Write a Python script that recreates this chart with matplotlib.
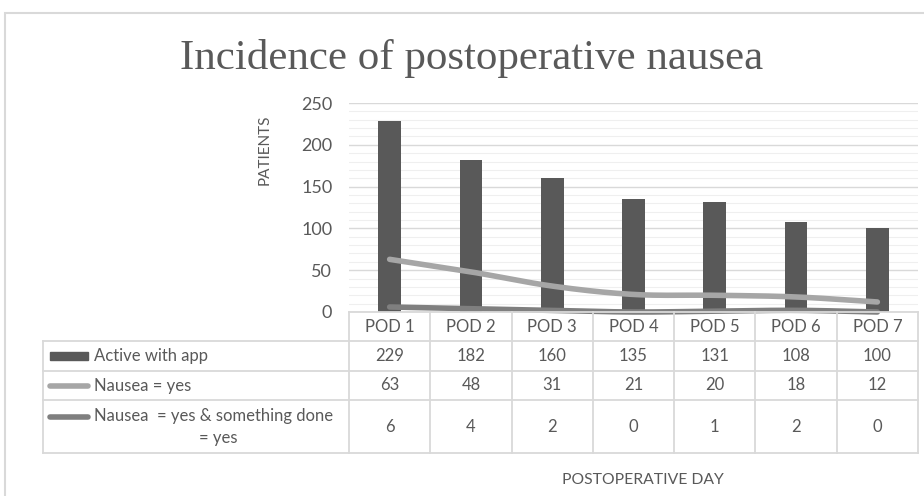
import numpy as np
import matplotlib
matplotlib.use("Agg")
import matplotlib.pyplot as plt
from matplotlib.lines import Line2D
from matplotlib.patches import Rectangle

days = ["POD 1", "POD 2", "POD 3", "POD 4", "POD 5", "POD 6", "POD 7"]
active = [229, 182, 160, 135, 131, 108, 100]
nausea = [63, 48, 31, 21, 20, 18, 12]
nausea_done = [6, 4, 2, 0, 1, 2, 0]
row_names = ["Active with app", "Nausea = yes", "Nausea  = yes & something done", "= yes"]

W, H = 924, 496
TXT = "#595959"
BAR = "#595959"
L1 = "#a6a6a6"
L2 = "#7f7f7f"
GRID = "#d9d9d9"
FS = 12

fig = plt.figure(figsize=(W / 100, H / 100), dpi=100)


def fx(x):
    return x / W


def fy(y):
    return 1 - y / H


def smooth(y, n=30):
    # catmull-rom like Excel's smoothed line
    y = np.asarray(y, float)
    x = np.arange(len(y), dtype=float)
    px = np.concatenate([[2 * x[0] - x[1]], x, [2 * x[-1] - x[-2]]])
    py = np.concatenate([[2 * y[0] - y[1]], y, [2 * y[-1] - y[-2]]])
    xs, ys = [], []
    for i in range(1, len(px) - 2):
        t = np.linspace(0, 1, n)
        for arr, out in ((px, xs), (py, ys)):
            p0, p1, p2, p3 = arr[i - 1], arr[i], arr[i + 1], arr[i + 2]
            out.append(0.5 * ((2 * p1) + (-p0 + p2) * t + (2 * p0 - 5 * p1 + 4 * p2 - p3) * t ** 2
                              + (-p0 + 3 * p1 - 3 * p2 + p3) * t ** 3))
    return np.concatenate(xs), np.concatenate(ys)


# outer chart frame (runs off the right and bottom edges)
fig.add_artist(Rectangle((fx(5), fy(530)), fx(940), (530 - 13) / H, transform=fig.transFigure,
                         fill=False, edgecolor="#d9d9d9", linewidth=1.5))

# table geometry (pixels)
tl, t0, tr = 43, 349, 918
rows_y = [312, 341, 371, 400, 453]
colw = (tr - t0) / len(days)

ax = fig.add_axes([fx(t0), fy(312), fx(tr - t0), (312 - 103) / H])
x = np.arange(len(days))
ax.bar(x, active, width=0.28, color=BAR, zorder=2)
sx, sy = smooth(nausea)
ax.plot(sx, sy, color=L1, linewidth=4, solid_capstyle="round", zorder=3)
sx, sy = smooth(nausea_done)
ax.plot(sx, sy, color=L2, linewidth=4, solid_capstyle="round", zorder=4, clip_on=False)
ax.set_xlim(-0.5, len(days) - 0.5)
ax.set_ylim(0, 250)
ax.set_yticks(range(0, 251, 50))
ax.set_yticks(range(0, 251, 10), minor=True)
ax.grid(axis="y", which="major", color=GRID, linewidth=1, zorder=0)
ax.grid(axis="y", which="minor", color="#efefef", linewidth=0.8, zorder=0)
ax.set_xticks([])
for s in ax.spines.values():
    s.set_visible(False)
ax.tick_params(axis="y", which="both", length=0, pad=12, labelsize=13, labelcolor=TXT)
for lab in ax.get_yticklabels():
    lab.set_fontfamily("Lato")

# title and axis titles
fig.text(fx(472), fy(58), "Incidence of postoperative nausea", ha="center", va="center",
         fontsize=31, color=TXT, family="Liberation Serif")
fig.text(fx(265), fy(150), "PATIENTS", rotation=90, ha="center", va="center",
         fontsize=11, color=TXT, family="Lato")
fig.text(fx(643), fy(480), "POSTOPERATIVE DAY", ha="center", va="center",
         fontsize=11.3, color=TXT, family="Lato")


# data table grid
def hline(y, x0, x1):
    fig.add_artist(Line2D([fx(x0), fx(x1)], [fy(y), fy(y)], color="#d9d9d9", linewidth=1.3))


def vline(x_, y0, y1):
    fig.add_artist(Line2D([fx(x_), fx(x_)], [fy(y0), fy(y1)], color="#d9d9d9", linewidth=1.3))


hline(rows_y[0], t0, tr)
for y in rows_y[1:]:
    hline(y, tl, tr)
vline(tl, rows_y[1], rows_y[-1])
for i in range(len(days) + 1):
    vline(t0 + i * colw, rows_y[0], rows_y[-1])

for i, d in enumerate(days):
    cx = t0 + (i + 0.5) * colw
    fig.text(fx(cx), fy((rows_y[0] + rows_y[1]) / 2), d, ha="center", va="center",
             fontsize=FS, color=TXT, family="Lato")
    for r, vals in enumerate([active, nausea, nausea_done]):
        cy = (rows_y[r + 1] + rows_y[r + 2]) / 2
        fig.text(fx(cx), fy(cy), str(vals[i]), ha="center", va="center",
                 fontsize=FS, color=TXT, family="Lato")

# row labels with legend keys
cy = (rows_y[1] + rows_y[2]) / 2
fig.add_artist(Rectangle((fx(50), fy(cy + 4)), fx(38), 8 / H, transform=fig.transFigure,
                         color=BAR))
fig.text(fx(94), fy(cy), row_names[0], ha="left", va="center", fontsize=FS, color=TXT, family="Lato")
cy = (rows_y[2] + rows_y[3]) / 2
fig.add_artist(Line2D([fx(50), fx(88)], [fy(cy), fy(cy)], color=L1, linewidth=4, solid_capstyle="round"))
fig.text(fx(94), fy(cy), row_names[1], ha="left", va="center", fontsize=FS, color=TXT, family="Lato")
cy = (rows_y[3] + rows_y[4]) / 2
fig.add_artist(Line2D([fx(50), fx(88)], [fy(cy - 10), fy(cy - 10)], color=L2, linewidth=4, solid_capstyle="round"))
fig.text(fx(94), fy(cy - 10), row_names[2], ha="left", va="center",
         fontsize=FS, color=TXT, family="Lato")
fig.text(fx(218), fy(cy + 12), row_names[3], ha="center", va="center", fontsize=FS, color=TXT, family="Lato")

fig.savefig("out.png", dpi=100)
